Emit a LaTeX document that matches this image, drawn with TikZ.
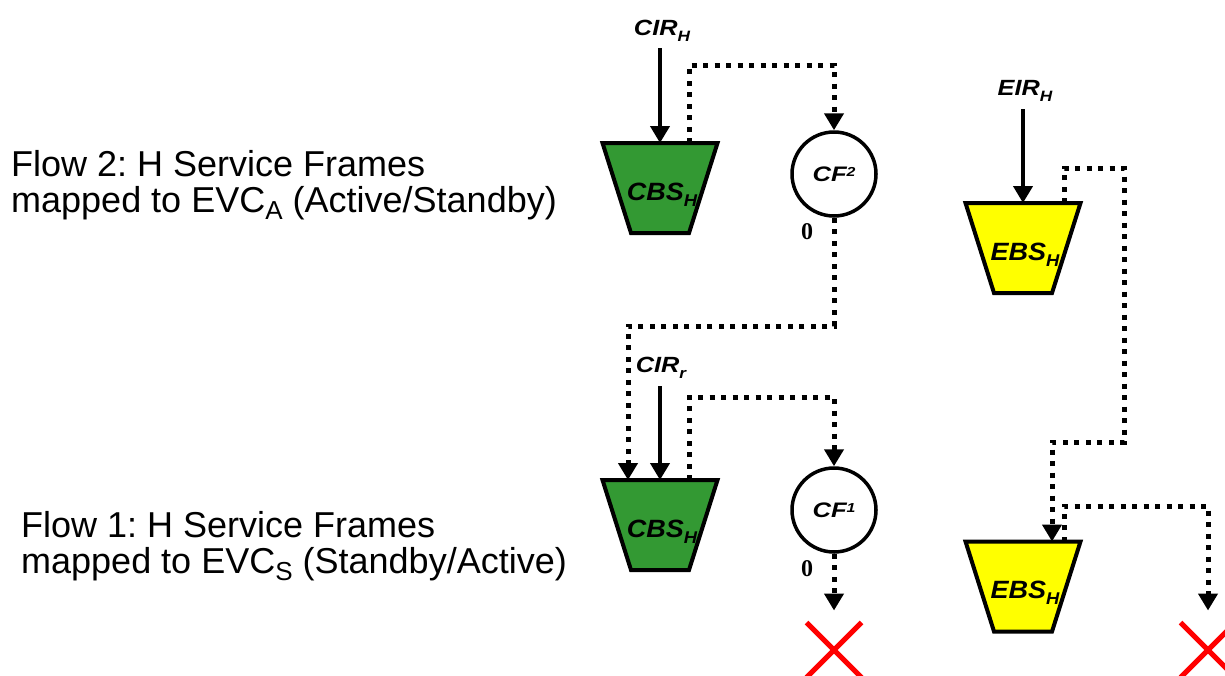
\documentclass[tikz,border=0pt]{standalone}
\usepackage{graphicx}
\usepackage{fontspec}
\setmainfont{Liberation Sans}
\newfontfamily\zerofont{Liberation Serif}
\usetikzlibrary{arrows.meta,shapes.misc}
\definecolor{cbsgreen}{RGB}{51,153,51}
\definecolor{ebsyellow}{RGB}{255,255,0}
\newcommand\mysubH[3]{\raisebox{-#2}{\fontsize{#1}{#1}\selectfont #3}}
\frenchspacing
\begin{document}
\begin{tikzpicture}[x=1pt,y=-1pt,
  bucketbox/.style={rectangle, minimum width=115pt, minimum height=90pt, inner sep=0pt, outer sep=0pt},
  bucketline/.style={draw=black, line width=4pt, line join=miter},
  bucktext/.style={inner sep=0pt, font=\fontsize{25}{25}\selectfont\bfseries\itshape},
  cfnode/.style={circle, draw=black, fill=white, line width=3.5pt, minimum size=84pt, inner sep=0pt,
    font=\fontsize{21}{21}\selectfont\bfseries\itshape},
  ratelbl/.style={inner sep=2pt, font=\fontsize{22}{22}\selectfont\bfseries\itshape},
  zerolbl/.style={inner sep=0pt, font=\fontsize{24}{24}\selectfont\zerofont\bfseries},
  flowtxt/.style={inner sep=0pt, anchor=base west, font=\fontsize{36}{36}\selectfont},
  solidarrow/.style={line width=4pt, -{Triangle[length=17pt,width=19pt]}},
  dotarrow/.style={line width=5pt, dash pattern=on 5pt off 6.5pt, -{Triangle[length=17pt,width=19pt]}},
  xmark/.style={cross out, draw=red, line width=5pt, minimum size=50pt, inner sep=0pt}]
\clip (0,0) rectangle (1225,675);
\fill[white] (0,0) rectangle (1225,675);

% left texts
\node[flowtxt] (f2a) at (11,176) {Flow 2: H Service Frames};
\node[flowtxt] (f2b) at (11,212) {mapped to EVC\mysubH{26}{7pt}{A} (Active/Standby)};
\node[flowtxt] (f1a) at (21,537) {Flow 1: H Service Frames};
\node[flowtxt] (f1b) at (21,573) {mapped to EVC\mysubH{26}{7pt}{S} (Standby/Active)};

% buckets (frames)
\node[bucketbox] (cbs1) at (660,188) {};
\node[bucketbox] (cbs2) at (660,525) {};
\node[bucketbox] (ebs1) at (1023,248) {};
\node[bucketbox] (ebs2) at (1023,586.5) {};
\foreach \b/\c in {cbs1/cbsgreen, cbs2/cbsgreen, ebs1/ebsyellow, ebs2/ebsyellow}{
  \filldraw[bucketline, fill=\c] (\b.north west) -- (\b.north east)
     -- ([xshift=-28.5pt]\b.south east) -- ([xshift=28.5pt]\b.south west) -- cycle;
}
\node[bucktext, anchor=base] (cbs1t) at (662,200) {\scalebox{1.08}[1]{CBS\mysubH{17}{6pt}{H}}};
\node[bucktext, anchor=base] (cbs2t) at (662,537) {\scalebox{1.08}[1]{CBS\mysubH{17}{6pt}{H}}};
\node[bucktext, anchor=base] (ebs1t) at (1025,260) {\scalebox{1.08}[1]{EBS\mysubH{17}{6pt}{H}}};
\node[bucktext, anchor=base] (ebs2t) at (1025,598) {\scalebox{1.08}[1]{EBS\mysubH{17}{6pt}{H}}};

% coupling flag circles
\node[cfnode] (cf2) at (834,174) {\scalebox{1.22}[1]{CF\raisebox{5pt}{\fontsize{13}{13}\selectfont 2}}};
\node[cfnode] (cf1) at (834,510) {\scalebox{1.22}[1]{CF\raisebox{5pt}{\fontsize{13}{13}\selectfont 1}}};

% zero labels
\node[zerolbl] (z2) at (807,232) {0};
\node[zerolbl] (z1) at (807,569) {0};

% rate labels
\node[ratelbl, anchor=base] (cirH) at (662,35) {\scalebox{1.15}[1]{CIR\mysubH{15}{6pt}{H}}};
\node[ratelbl, anchor=base] (cirr) at (661,372) {\scalebox{1.15}[1]{CIR\mysubH{15}{6pt}{r}}};
\node[ratelbl, anchor=base] (eirH) at (1025,95) {\scalebox{1.15}[1]{EIR\mysubH{15}{6pt}{H}}};

% red crosses
\node[xmark] (x1) at (834,650) {};
\node[xmark] (x2) at (1208,650) {};

% turning points
\coordinate (t1) at (689,65);
\coordinate (t2) at (834,326);
\coordinate (t3) at (689,397);
\coordinate (t4) at (1064,168);
\coordinate (t5) at (1124,442);
\coordinate (t6) at (1064,506);

% solid arrows
\draw[solidarrow, shorten <=5pt] (cirH.south -| cbs1.north) -- (cbs1.north);
\draw[solidarrow, shorten <=6pt] (cirr.south -| cbs2.north) -- (cbs2.north);
\draw[solidarrow, shorten <=6pt] (eirH.south -| ebs1.north) -- (ebs1.north);

% dotted connectors
\draw[dotarrow] ([xshift=29pt]cbs1.north) -- (t1) -| (cf2.north);
\draw[dotarrow] (cf2.south) -- (t2) -| ([xshift=-32pt]cbs2.north);
\draw[dotarrow] ([xshift=29pt]cbs2.north) -- (t3) -| (cf1.north);
\draw[dotarrow] (cf1.south) -- ([yshift=12pt]x1.north);
\draw[dotarrow] ([xshift=41pt]ebs1.north) -- (t4) -| (t5) -| ([xshift=29pt]ebs2.north);
\draw[dotarrow] ([xshift=41pt]ebs2.north) -- (t6) -| ([yshift=12pt]x2.north);
\end{tikzpicture}
\end{document}
